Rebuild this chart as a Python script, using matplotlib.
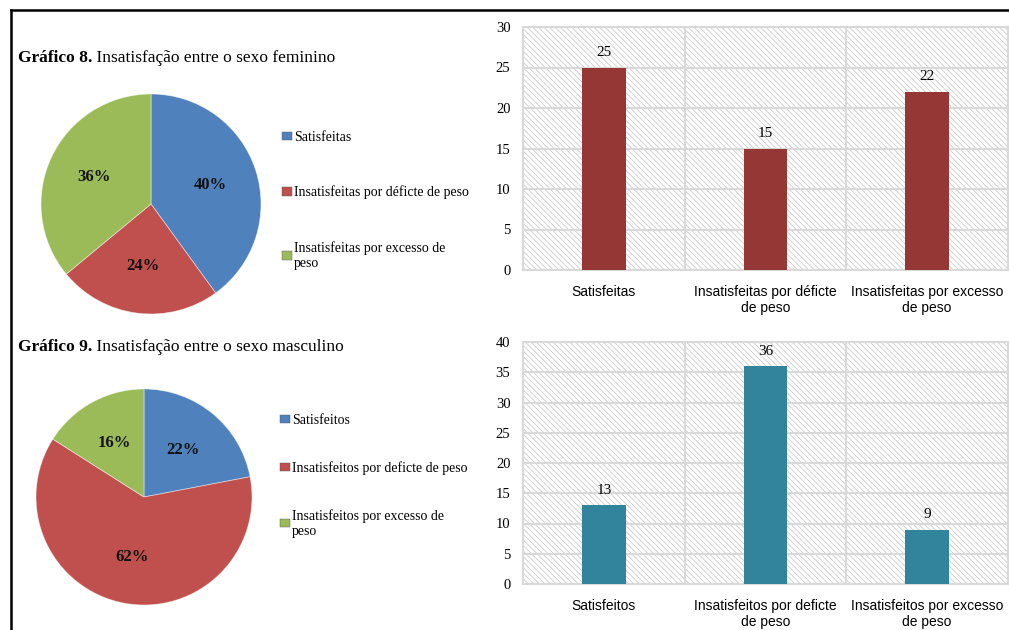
import matplotlib
matplotlib.use("Agg")
import matplotlib.pyplot as plt
from matplotlib.patches import Rectangle, Patch
from matplotlib.lines import Line2D

# dados
fem_labels = ["Satisfeitas", "Insatisfeitas por déficte de peso", "Insatisfeitas por excesso de\npeso"]
fem_pct = [40, 24, 36]
fem_bar_labels = ["Satisfeitas", "Insatisfeitas por déficte\nde peso", "Insatisfeitas por excesso\nde peso"]
fem_counts = [25, 15, 22]

masc_labels = ["Satisfeitos", "Insatisfeitos por deficte de peso", "Insatisfeitos por excesso de\npeso"]
masc_pct = [22, 62, 16]
masc_bar_labels = ["Satisfeitos", "Insatisfeitos por deficte\nde peso", "Insatisfeitos por excesso\nde peso"]
masc_counts = [13, 36, 9]

pie_colors = ["#4F81BD", "#C0504D", "#9BBB59"]
W, H = 1009, 630

plt.rcParams['hatch.linewidth'] = 0.6
fig = plt.figure(figsize=(W / 100, H / 100), dpi=100)


def px(l, t, w, h):
    # caixa em pixels (esq, topo, larg, alt) -> fracoes da figura
    return [l / W, (H - t - h) / H, w / W, h / H]


def pie(box, values, labels, title, title_y, leg_x, leg_y, spacing):
    ax = fig.add_axes(px(*box))
    ax.pie(values, colors=pie_colors, startangle=90, counterclock=False,
           autopct='%d%%', pctdistance=0.57, radius=1,
           wedgeprops=dict(linewidth=0.6, edgecolor='#ffffff80'),
           textprops=dict(family='Liberation Serif', weight='bold', fontsize=12, color='#111111'))
    ax.set_xlim(-1, 1)
    ax.set_ylim(-1, 1)
    ax.set_aspect('equal')
    handles = [Patch(facecolor=c, edgecolor='#555555', linewidth=0.3) for c in pie_colors]
    fig.legend(handles, labels, loc='upper left',
               bbox_to_anchor=(leg_x / W, 1 - leg_y / H), frameon=False,
               prop=dict(family='Liberation Serif', size=10),
               handlelength=0.75, handleheight=0.55, handletextpad=0.1,
               labelspacing=spacing, borderaxespad=0, borderpad=0)
    t1 = fig.text(18 / W, 1 - title_y / H, title[0], family='Liberation Serif',
                  weight='bold', fontsize=12.5, va='baseline', ha='left')
    fig.axes[0].annotate(" " + title[1], xy=(1, 0), xycoords=t1, va='bottom', ha='left',
                         family='Liberation Serif', fontsize=12.5, annotation_clip=False)


def bars(box, counts, labels, color, ymax):
    ax = fig.add_axes(px(*box))
    ax.add_patch(Rectangle((0, 0), 1, 1, transform=ax.transAxes, facecolor='white',
                           edgecolor='#cccccc', hatch='\\\\\\\\\\\\', linewidth=0, zorder=0))
    x = range(len(counts))
    b = ax.bar(x, counts, width=0.27, color=color, zorder=3)
    ax.bar_label(b, padding=6, family='Liberation Serif', fontsize=11)
    ax.set_xlim(-0.5, 2.5)
    ax.set_ylim(0, ymax)
    ax.set_yticks(range(0, ymax + 1, 5))
    ax.set_xticks(list(x))
    ax.set_xticklabels(labels, family='Liberation Sans', fontsize=10, linespacing=1.2)
    for t in ax.get_yticklabels():
        t.set_family('Liberation Serif')
        t.set_fontsize(10.5)
    ax.tick_params(length=0, pad=9)
    ax.tick_params(axis='x', pad=11)
    ax.grid(axis='y', color='#d9d9d9', linewidth=1.5, zorder=1)
    for v in [0.5, 1.5]:
        ax.axvline(v, color='#d9d9d9', linewidth=1.5, zorder=1)
    for s in ax.spines.values():
        s.set_color('#d9d9d9')
        s.set_linewidth(1.5)
    ax.set_axisbelow(True)


bars((523, 27, 485, 243), fem_counts, fem_bar_labels, "#953735", 30)
bars((523, 342, 485, 242), masc_counts, masc_bar_labels, "#31849B", 40)

pie((41, 94, 220, 220), fem_pct, fem_labels,
    ("Gráfico 8.", "Insatisfação entre o sexo feminino"), 62, 282, 131, 3.0)
pie((36, 389, 216, 216), masc_pct, masc_labels,
    ("Gráfico 9.", "Insatisfação entre o sexo masculino"), 351, 280, 414, 2.45)

# moldura
fig.add_artist(Line2D([11 / W, 11 / W], [0, 1 - 10 / H], color='black', linewidth=1.8))
fig.add_artist(Line2D([11 / W, 1], [1 - 10 / H, 1 - 10 / H], color='black', linewidth=1.8))

fig.savefig("out.png", dpi=100)
